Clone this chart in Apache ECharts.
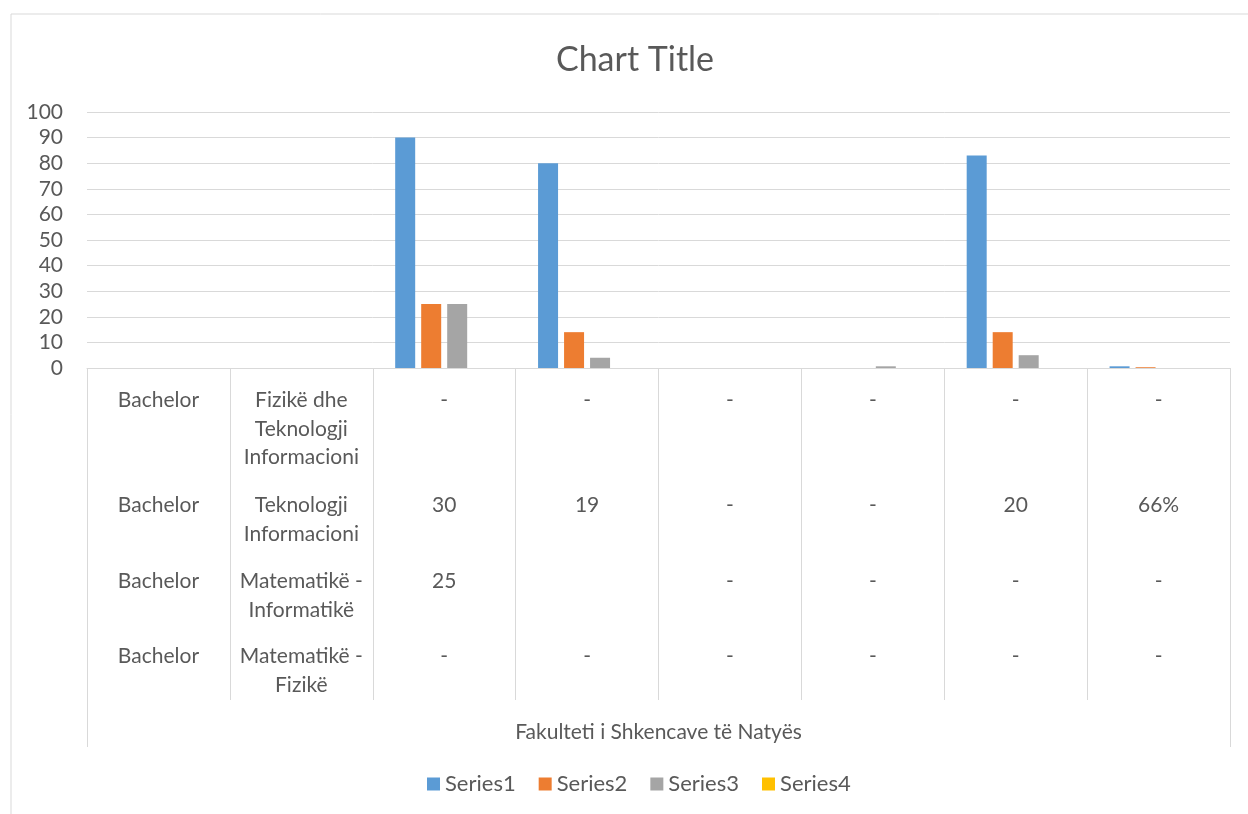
<!DOCTYPE html>
<html>
<head>
<meta charset="utf-8">
<title>Chart Title</title>
<script src="https://cdn.jsdelivr.net/npm/echarts@6/dist/echarts.min.js"></script>
<style>
  html, body { margin: 0; padding: 0; background: #fff; }
  #chart { width: 1248px; height: 814px; }
</style>
</head>
<body>
<div id="chart"></div>
<script>
// columns of the chart (one per category)
const categories = ['c1', 'c2', 'c3', 'c4', 'c5', 'c6', 'c7', 'c8']

// table rows printed under the axis
const row1 = ['Bachelor', 'Fizikë dhe\nTeknologji\nInformacioni', '-', '-', '-', '-', '-', '-']
const row2 = ['Bachelor', 'Teknologji\nInformacioni', '30', '19', '-', '-', '20', '66%']
const row3 = ['Bachelor', 'Matematikë -\nInformatikë', '25', '', '-', '-', '-', '-']
const row4 = ['Bachelor', 'Matematikë -\nFizikë', '-', '-', '-', '-', '-', '-']

// series values
const series1 = [0, 0, 90, 80, 0, 0, 83, 0.66]
const series2 = [0, 0, 25, 14, 0, 0, 14, 0.3]
const series3 = [0, 0, 25, 4, 0, 0.66, 5, 0]
const series4 = [0, 0, 0, 0, 0, 0, 0, 0]

const groupName = 'Fakulteti i Shkencave të Natyës'
const yTicks = { min: 0, max: 100, interval: 10 }

const textColor = '#595959'
const lineColor = '#d9d9d9'
const font = 'Lato'

const chart = echarts.init(document.getElementById('chart'))

function rowAxis(data, margin) {
  return {
    type: 'category',
    gridIndex: 0,
    position: 'bottom',
    data: data,
    axisLine: { show: false },
    axisTick: { show: false },
    splitLine: { show: false },
    axisLabel: {
      interval: 0,
      margin: margin,
      color: textColor,
      fontFamily: font,
      fontSize: 21,
      lineHeight: 28.5,
      align: 'center',
      verticalAlign: 'top'
    }
  }
}

function bar(name, data, color) {
  return {
    name: name,
    type: 'bar',
    xAxisIndex: 0,
    data: data,
    barWidth: 20,
    barGap: '30%',
    itemStyle: { color: color }
  }
}

chart.setOption({
  animation: false,
  title: {
    text: 'Chart Title',
    left: 635,
    top: 43,
    padding: 0,
    textAlign: 'center',
    textStyle: {
      color: textColor,
      fontFamily: font,
      fontSize: 34,
      fontWeight: 'normal'
    }
  },
  legend: {
    data: ['Series1', 'Series2', 'Series3', 'Series4'],
    left: 427,
    top: 773,
    padding: 0,
    icon: 'rect',
    itemWidth: 13,
    itemHeight: 13,
    itemGap: 23,
    textStyle: { color: textColor, fontFamily: font, fontSize: 22 }
  },
  graphic: [{
    type: 'rect',
    shape: { x: 11, y: 14, width: 1260, height: 820 },
    style: { fill: 'none', stroke: lineColor, lineWidth: 1 },
    silent: true
  }],
  grid: {
    left: 87,
    right: 18,
    top: 112,
    bottom: 446,
    containLabel: false
  },
  xAxis: [
    {
      type: 'category',
      data: categories,
      axisLine: { lineStyle: { color: lineColor, width: 1 } },
      axisTick: { show: true, interval: 0, length: 332, lineStyle: { color: lineColor, width: 1 } },
      axisLabel: { show: false }
    },
    // outer frame lines + faculty name
    {
      type: 'value',
      gridIndex: 0,
      position: 'bottom',
      min: 0,
      max: 1,
      interval: 1,
      axisLine: { show: false },
      axisTick: { show: true, length: 379, lineStyle: { color: lineColor, width: 1 } },
      axisLabel: { show: false },
      splitLine: { show: false },
      name: groupName,
      nameLocation: 'middle',
      nameGap: 364,
      nameTextStyle: { color: textColor, fontFamily: font, fontSize: 21, verticalAlign: 'middle' }
    },
    rowAxis(row1, 18),
    rowAxis(row2, 123),
    rowAxis(row3, 199),
    rowAxis(row4, 274)
  ],
  yAxis: {
    type: 'value',
    min: yTicks.min,
    max: yTicks.max,
    interval: yTicks.interval,
    axisLine: { show: false },
    axisTick: { show: false },
    splitLine: { lineStyle: { color: lineColor, width: 1 } },
    axisLabel: { margin: 24, color: textColor, fontFamily: font, fontSize: 21 }
  },
  series: [
    bar('Series1', series1, '#5b9bd5'),
    bar('Series2', series2, '#ed7d31'),
    bar('Series3', series3, '#a5a5a5'),
    bar('Series4', series4, '#ffc000')
  ]
})
</script>
</body>
</html>
